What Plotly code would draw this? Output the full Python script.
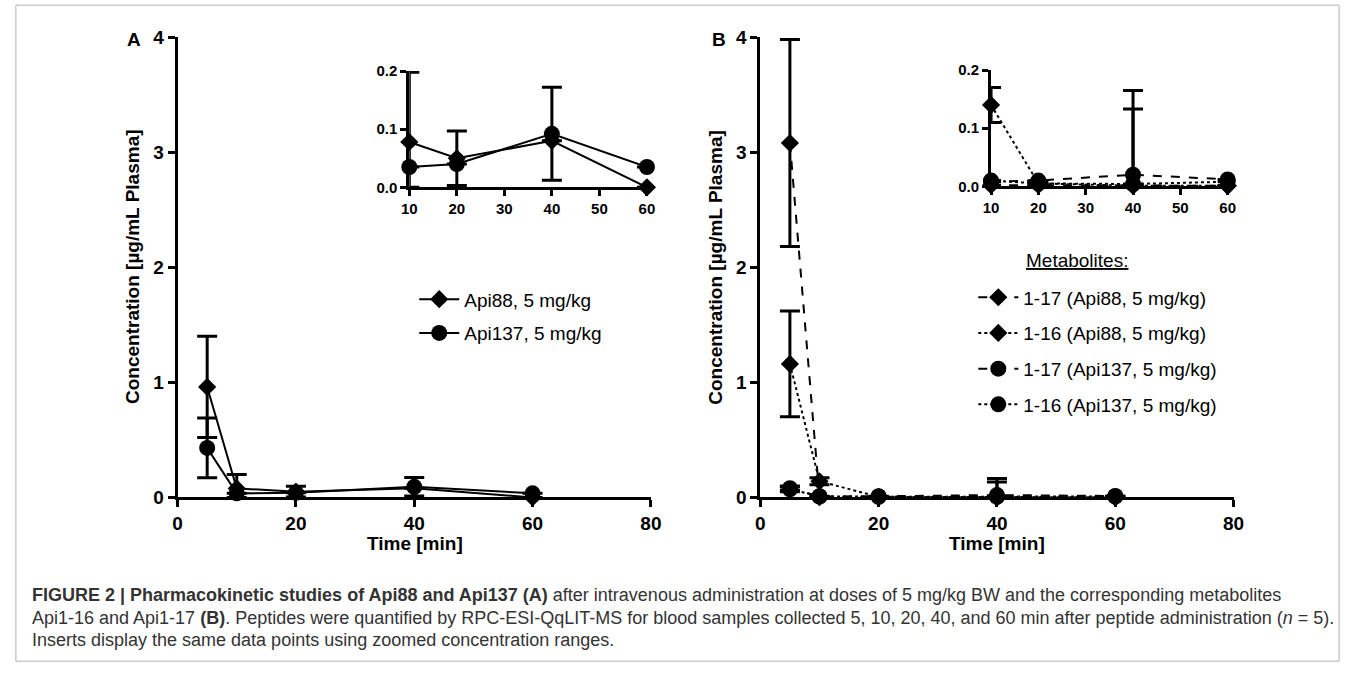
import plotly.graph_objects as go

# ---------------- data ----------------
times = [5, 10, 20, 40, 60]

# Panel A (parent peptides)
api88_mean = [0.96, 0.078, 0.050, 0.080, 0.0]
api88_err_plus = [0.44, 0.12, 0.047, 0.0, 0.0]
api88_err_minus = [0.44, 0.078, 0.047, 0.0, 0.0]
api137_mean = [0.43, 0.035, 0.040, 0.092, 0.035]
api137_err_plus = [0.26, 0.0, 0.0, 0.080, 0.0]
api137_err_minus = [0.26, 0.0, 0.0, 0.080, 0.0]

# Panel B (metabolites)
m17_api88 = [3.08, 0.002, 0.002, 0.002, 0.001]
m17_api88_err = [0.90, 0.0, 0.0, 0.131, 0.0]
m16_api88 = [1.16, 0.14, 0.005, 0.001, 0.001]
m16_api88_err = [0.46, 0.03, 0.0, 0.0, 0.0]
m17_api137 = [0.08, 0.008, 0.010, 0.020, 0.012]
m17_api137_err = [0.02, 0.0, 0.0, 0.145, 0.0]
m16_api137 = [0.07, 0.010, 0.005, 0.004, 0.008]
m16_api137_err = [0.02, 0.0, 0.0, 0.0, 0.0]

labels_a = ["Api88, 5 mg/kg", "Api137, 5 mg/kg"]
labels_b = ["1-17 (Api88, 5 mg/kg)", "1-16 (Api88, 5 mg/kg)",
            "1-17 (Api137, 5 mg/kg)", "1-16 (Api137, 5 mg/kg)"]

main_yticks = [0, 1, 2, 3, 4]
main_xticks = [0, 20, 40, 60, 80]
inset_yticks = [0.0, 0.1, 0.2]
inset_xticks = [10, 20, 30, 40, 50, 60]

# ---------------- layout helpers ----------------
W, H = 1358, 677
def fx(p):
    return p / W
def fy(p):
    return 1 - p / H

FONT = "Liberation Sans, Arial, sans-serif"
BLACK = "#000000"

fig = go.Figure()

def add_series(x, y, ep, em, symbol, size, dash, name, xa, ya, legend, showlegend, lw=2):
    fig.add_trace(go.Scatter(
        x=x, y=y, mode="lines+markers", name=name,
        line=dict(color=BLACK, width=lw, dash=dash),
        marker=dict(symbol=symbol, size=size, color=BLACK),
        error_y=dict(type="data", array=ep, arrayminus=em, visible=True,
                     color=BLACK, thickness=3, width=10),
        xaxis=xa, yaxis=ya, cliponaxis=False,
        showlegend=showlegend, legend=legend, legendgroup=name,
    ))

DIA, CIR = 14, 16

# Panel A main
add_series(times, api88_mean, api88_err_plus, api88_err_minus, "diamond", DIA, "solid",
           labels_a[0], "x", "y", "legend", True)
add_series(times, api137_mean, api137_err_plus, api137_err_minus, "circle", CIR, "solid",
           labels_a[1], "x", "y", "legend", True)
# Panel A inset
add_series(times[1:], api88_mean[1:], api88_err_plus[1:], api88_err_minus[1:], "diamond", DIA, "solid",
           labels_a[0], "x2", "y2", "legend", False)
add_series(times[1:], api137_mean[1:], api137_err_plus[1:], api137_err_minus[1:], "circle", CIR, "solid",
           labels_a[1], "x2", "y2", "legend", False)

b_series = [
    (m17_api88, m17_api88_err, "diamond", DIA, "dash"),
    (m16_api88, m16_api88_err, "diamond", DIA, "dot"),
    (m17_api137, m17_api137_err, "circle", CIR, "dash"),
    (m16_api137, m16_api137_err, "circle", CIR, "dot"),
]
for (vals, err, sym, sz, dash), lab in zip(b_series, labels_b):
    add_series(times, vals, err, err, sym, sz, dash, lab, "x3", "y3", "legend2", True)
for (vals, err, sym, sz, dash), lab in zip(b_series, labels_b):
    ep = err[1:]
    em = [min(e, v) for e, v in zip(err[1:], vals[1:])]
    add_series(times[1:], vals[1:], ep, em, sym, sz, dash, lab, "x4", "y4", "legend2", False)

axis_common = dict(showline=True, linewidth=3, linecolor=BLACK, ticks="outside",
                   tickwidth=3, tickcolor=BLACK, showgrid=False, zeroline=False,
                   fixedrange=True)
main_font = dict(family=FONT, size=19, color=BLACK, weight="bold")
inset_font = dict(family=FONT, size=15, color=BLACK, weight="bold")

# pixel geometry (reference image coordinates)
yA_top, yA_bot = 28, 503
xA_l, xA_r = 172, 652
xB_l, xB_r = 763, 1243
inA = (407, 648, 63, 183)
inB = (997, 1237, 62, 182)

fig.update_layout(
    width=W, height=H, margin=dict(l=0, r=0, t=0, b=0),
    paper_bgcolor="white", plot_bgcolor="rgba(0,0,0,0)",
    font=dict(family=FONT, color=BLACK),
    xaxis=dict(domain=[fx(xA_l), fx(xA_r)], range=[0, 80], tickvals=main_xticks,
               ticklen=7, tickfont=main_font, anchor="y", **axis_common),
    yaxis=dict(domain=[fy(yA_bot), fy(yA_top)], range=[0, 4], tickvals=main_yticks,
               ticklen=7, tickfont=main_font, anchor="x", **axis_common),
    xaxis2=dict(domain=[fx(inA[0]), fx(inA[1])], range=[10, 60], tickvals=inset_xticks,
                ticklen=6, tickfont=inset_font, anchor="y2", **axis_common),
    yaxis2=dict(domain=[fy(inA[3]), fy(inA[2])], range=[0, 0.2], tickvals=inset_yticks,
                tickformat=".1f", ticklen=6, tickfont=inset_font, anchor="x2", **axis_common),
    xaxis3=dict(domain=[fx(xB_l), fx(xB_r)], range=[0, 80], tickvals=main_xticks,
                ticklen=7, tickfont=main_font, anchor="y3", **axis_common),
    yaxis3=dict(domain=[fy(yA_bot), fy(yA_top)], range=[0, 4], tickvals=main_yticks,
                ticklen=7, tickfont=main_font, anchor="x3", **axis_common),
    xaxis4=dict(domain=[fx(inB[0]), fx(inB[1])], range=[10, 60], tickvals=inset_xticks,
                ticklen=6, tickfont=inset_font, anchor="y4", **axis_common),
    yaxis4=dict(domain=[fy(inB[3]), fy(inB[2])], range=[0, 0.2], tickvals=inset_yticks,
                tickformat=".1f", ticklen=6, tickfont=inset_font, anchor="x4", **axis_common),
    legend=dict(x=fx(412), y=fy(279), xanchor="left", yanchor="top",
                font=dict(family=FONT, size=19, color=BLACK), bgcolor="rgba(0,0,0,0)",
                tracegroupgap=6, itemwidth=40),
    legend2=dict(x=fx(979), y=fy(277), xanchor="left", yanchor="top",
                 font=dict(family=FONT, size=19, color=BLACK), bgcolor="rgba(0,0,0,0)",
                 tracegroupgap=8, itemwidth=40),
)

ann = []
def add_text(text, x, y, size=19, bold=True, angle=0, xanchor="center", color=BLACK):
    ann.append(dict(text=text, x=fx(x), y=fy(y), xref="paper", yref="paper",
                    showarrow=False, textangle=angle, xanchor=xanchor, yanchor="middle",
                    font=dict(family=FONT, size=size, color=color,
                              weight="bold" if bold else "normal")))

add_text("A", 128, 30)
add_text("B", 721, 30)
add_text("Concentration [µg/mL Plasma]", 127, 265, angle=-90)
add_text("Concentration [µg/mL Plasma]", 718, 265, angle=-90)
add_text("Time [min]", 413, 551)
add_text("Time [min]", 1003, 551)
add_text("<span style='text-decoration:underline'>Metabolites:</span>", 1030, 259,
         bold=False, xanchor="left")

cap_color = "#333333"
cap_size = 18
add_text("<b>FIGURE 2 | Pharmacokinetic studies of Api88 and Api137 (A)</b> after intravenous "
         "administration at doses of 5 mg/kg BW and the corresponding metabolites",
         22, 604, size=cap_size, bold=False, xanchor="left", color=cap_color)
add_text("Api1-16 and Api1-17 <b>(B)</b>. Peptides were quantified by RPC-ESI-QqLIT-MS for blood "
         "samples collected 5, 10, 20, 40, and 60 min after peptide administration (<i>n</i> = 5).",
         22, 627, size=cap_size, bold=False, xanchor="left", color=cap_color)
add_text("Inserts display the same data points using zoomed concentration ranges.",
         22, 650, size=cap_size, bold=False, xanchor="left", color=cap_color)
fig.update_layout(annotations=ann)

fig.add_shape(type="rect", xref="paper", yref="paper",
              x0=fx(8), x1=fx(1350), y0=fy(672), y1=fy(-5),
              line=dict(color="#b0b0b0", width=1), fillcolor="rgba(0,0,0,0)", layer="below")

fig.write_html(
    "out.html",
    config={"displayModeBar": False},
    post_script="document.body.style.margin='0';document.body.style.padding='0';"
                "document.documentElement.style.overflow='hidden';"
                "document.body.style.overflow='hidden';",
)
